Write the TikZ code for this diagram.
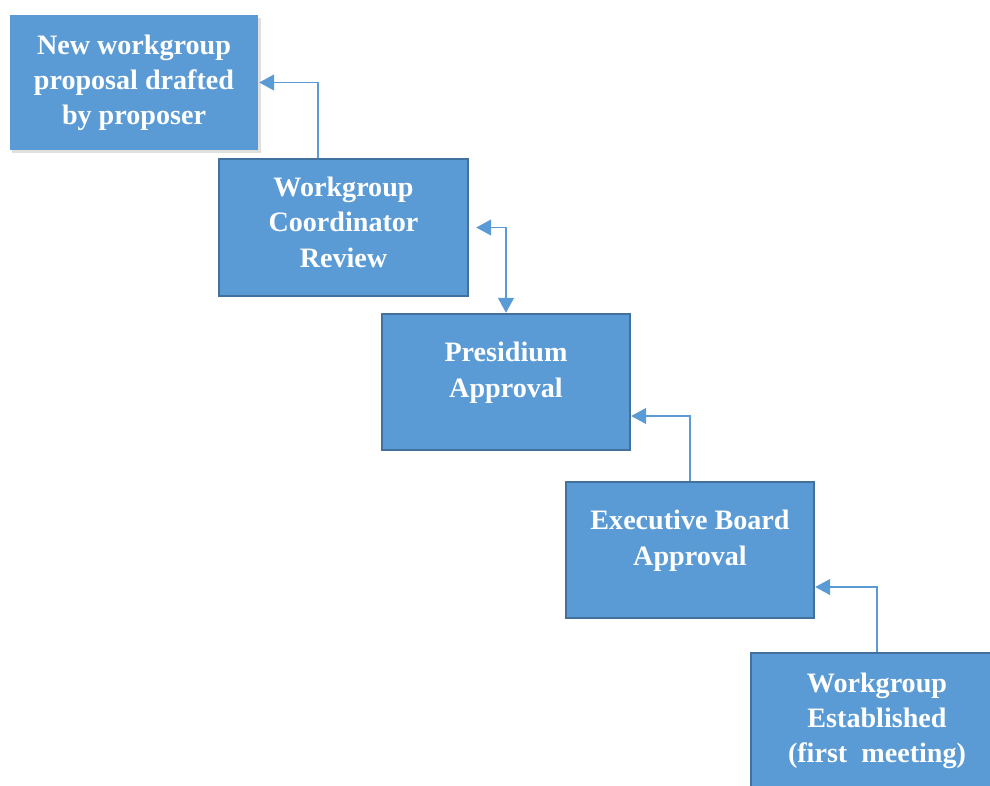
\documentclass[tikz,border=0pt]{standalone}
\usepackage{fontspec}
\setmainfont{Liberation Serif}
\usetikzlibrary{arrows.meta,shadows}
\definecolor{boxblue}{HTML}{5B9BD5}
\definecolor{boxedge}{HTML}{41719C}
\tikzset{
	stepbox/.style={fill=boxblue, draw=boxedge, line width=1.4pt, minimum width=4.96cm, minimum height=2.72cm, align=center, text=white, font=\fontsize{16}{20}\selectfont\bfseries},
	flow/.style={draw=boxblue, line width=0.8pt, -{Triangle[length=0.3cm,width=0.32cm]}}
}
\begin{document}
\begin{tikzpicture}
	\useasboundingbox (0,0) rectangle (19.8,-15.7);
	\clip (0,0) rectangle (19.8,-15.7);
	
	% Draw the proposal box (no border, soft shadow)
	\node[stepbox, draw=none, minimum width=4.96cm, minimum height=2.70cm, drop shadow={shadow xshift=0.05cm, shadow yshift=-0.05cm, opacity=0.25}] (proposal) at (2.68,-1.65) {New workgroup\\proposal drafted\\by proposer};
	
	% Draw the review and approval boxes
	\node[stepbox, minimum width=4.98cm, minimum height=2.74cm] (review) at (6.87,-4.55) {Workgroup\\Coordinator\\Review\\[-14pt]~};
	\node[stepbox] (presidium) at (10.12,-7.64) {Presidium\\Approval\\[-6pt]~};
	\node[stepbox] (board) at (13.80,-11.00) {Executive Board\\Approval\\[-6pt]~};
	\node[stepbox, minimum width=5.04cm] (established) at (17.54,-14.42) {Workgroup\\Established\\(first~~meeting)};
	
	% Draw the connectors
	\draw[flow] ([xshift=-0.51cm]review.north) |- (proposal.east);
	\draw[flow, {Triangle[length=0.3cm,width=0.32cm]}-{Triangle[length=0.3cm,width=0.32cm]}, shorten <=0.14cm] (review.east) -| (presidium.north);
	\draw[flow] (board.north) |- ([yshift=-0.68cm]presidium.east);
	\draw[flow] (established.north) |- ([yshift=-0.74cm]board.east);
	
\end{tikzpicture}
\end{document}
